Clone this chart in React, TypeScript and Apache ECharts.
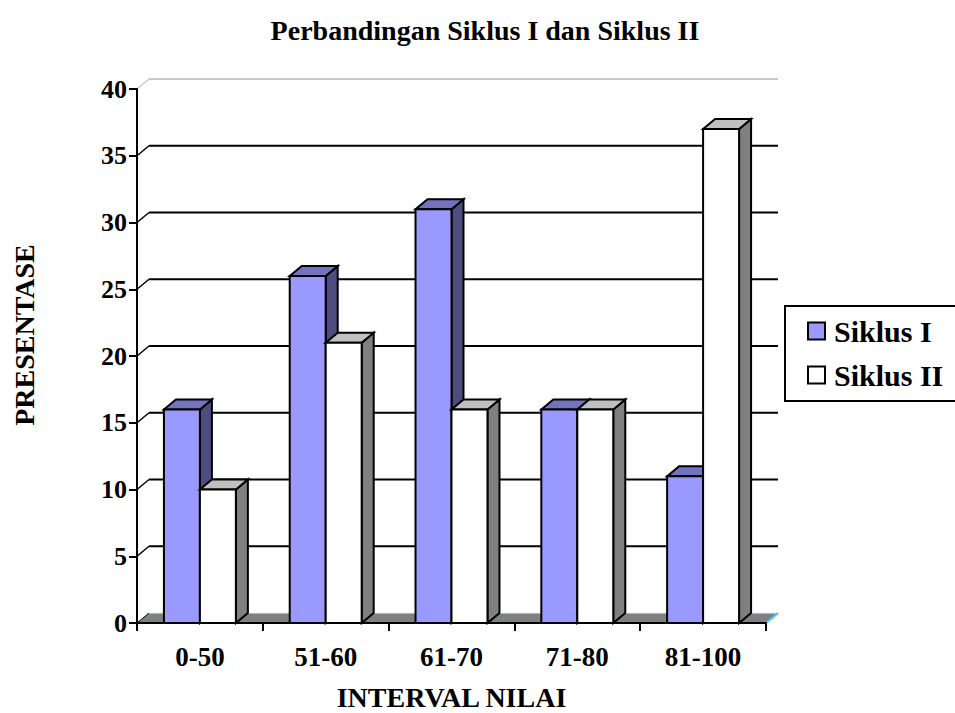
import React, { useEffect, useRef } from "react";
import * as echarts from "echarts";

// Score intervals and percentage of students per interval for each cycle
const CATEGORIES = ["0-50", "51-60", "61-70", "71-80", "81-100"];
const SIKLUS_I = [16, 26, 31, 16, 11];
const SIKLUS_II = [10, 21, 16, 16, 37];
const Y_TICKS = [0, 5, 10, 15, 20, 25, 30, 35, 40];

const FONT = "'Liberation Serif', 'Times New Roman', serif";
const DX = 12; // depth offset of the 3D box, horizontal
const DY = -10; // depth offset of the 3D box, vertical

type Shade = { front: string; top: string; side: string };

const SHADE_I: Shade = { front: "#9999ff", top: "#7373c0", side: "#4d4d80" };
const SHADE_II: Shade = { front: "#ffffff", top: "#c0c0c0", side: "#808080" };

function barRenderer(startFrac: number, endFrac: number, shade: Shade) {
  return (_params: any, api: any) => {
    const idx = api.value(0);
    const v = api.value(1);
    const top = api.coord([idx, v]);
    const base = api.coord([idx, 0]);
    const bw = api.size([1, 0])[0];
    const x0 = top[0] + startFrac * bw;
    const x1 = top[0] + endFrac * bw;
    const yT = top[1];
    const yB = base[1];
    const line = { stroke: "#000", lineWidth: 2, lineJoin: "miter" };
    return {
      type: "group",
      children: [
        {
          type: "polygon",
          shape: { points: [[x1, yT], [x1 + DX, yT + DY], [x1 + DX, yB + DY], [x1, yB]] },
          style: { fill: shade.side, ...line },
        },
        {
          type: "polygon",
          shape: { points: [[x0, yT], [x0 + DX, yT + DY], [x1 + DX, yT + DY], [x1, yT]] },
          style: { fill: shade.top, ...line },
        },
        {
          type: "rect",
          shape: { x: x0, y: yT, width: x1 - x0, height: yB - yT },
          style: { fill: shade.front, ...line },
        },
      ],
    };
  };
}

// Back wall grid lines and the floor of the 3D box
function wallRenderer(params: any, api: any) {
  const v = api.value(1);
  const cs = params.coordSys;
  const xl = cs.x;
  const xr = cs.x + cs.width;
  const y = api.coord([0, v])[1];
  if (v === 0) {
    return {
      type: "group",
      children: [
        {
          type: "polygon",
          shape: { points: [[xl, y], [xl + DX, y + DY], [xr + DX, y + DY], [xr, y]] },
          style: { fill: "#808080" },
        },
        {
          type: "line",
          shape: { x1: xl + DX, y1: y + DY, x2: xr + DX, y2: y + DY },
          style: { stroke: "#dff4f8", lineWidth: 1 },
        },
        {
          type: "line",
          shape: { x1: xr, y1: y, x2: xr + DX, y2: y + DY },
          style: { stroke: "#33ccff", lineWidth: 2 },
        },
        {
          type: "line",
          shape: { x1: xl, y1: y, x2: xl + DX, y2: y + DY },
          style: { stroke: "#000", lineWidth: 1 },
        },
      ],
    };
  }
  const isTop = v === Y_TICKS[Y_TICKS.length - 1];
  const color = isTop ? "#c8c8c8" : "#000";
  return {
    type: "group",
    children: [
      {
        type: "line",
        shape: { x1: xl, y1: y, x2: xl + DX, y2: y + DY },
        style: { stroke: color, lineWidth: 1.5 },
      },
      {
        type: "line",
        shape: { x1: xl + DX, y1: y + DY, x2: xr + DX, y2: y + DY },
        style: { stroke: color, lineWidth: 2 },
      },
    ],
  };
}

export default function App() {
  const ref = useRef<HTMLDivElement>(null);

  useEffect(() => {
    if (!ref.current) return;
    const chart = echarts.init(ref.current, undefined, { renderer: "svg" });
    const labelStyle = { fontFamily: FONT, fontWeight: "bold" as const, color: "#000" };
    chart.setOption({
      animation: false,
      backgroundColor: "#fff",
      title: {
        text: "Perbandingan Siklus I dan Siklus II",
        left: 480,
        textAlign: "center",
        top: 11,
        textStyle: { ...labelStyle, fontSize: 28 },
      },
      legend: {
        orient: "vertical",
        left: 785,
        top: 306,
        padding: [10, 18, 11, 22],
        itemGap: 14,
        itemWidth: 17,
        itemHeight: 17,
        borderColor: "#000",
        borderWidth: 2,
        textStyle: { ...labelStyle, fontSize: 30, padding: [0, 0, 0, 4] },
        data: [
          {
            name: "Siklus I",
            icon: "rect",
            itemStyle: { color: SHADE_I.front, borderColor: "#000", borderWidth: 2 },
          },
          {
            name: "Siklus II",
            icon: "rect",
            itemStyle: { color: SHADE_II.front, borderColor: "#000", borderWidth: 2 },
          },
        ],
      },
      graphic: [
        {
          type: "text",
          x: 24,
          y: 335,
          rotation: Math.PI / 2,
          style: {
            text: "PRESENTASE",
            fontFamily: FONT,
            fontWeight: "bold",
            fontSize: 28,
            fill: "#000",
            align: "center",
            verticalAlign: "middle",
          },
        },
      ],
      grid: { left: 137, right: 189, top: 89, bottom: 90, outerBoundsMode: "none" },
      xAxis: {
        type: "category",
        data: CATEGORIES,
        z: 5,
        axisLine: { lineStyle: { color: "#000", width: 2 } },
        axisTick: { show: true, length: 8, lineStyle: { color: "#000", width: 2 } },
        axisLabel: { ...labelStyle, fontSize: 27, margin: 20 },
        name: "INTERVAL NILAI",
        nameLocation: "middle",
        nameGap: 60,
        nameTextStyle: { ...labelStyle, fontSize: 28 },
        splitLine: { show: false },
      },
      yAxis: {
        type: "value",
        min: 0,
        max: 40,
        interval: 5,
        z: 5,
        axisLine: { show: true, lineStyle: { color: "#000", width: 2 } },
        axisTick: { show: true, length: 8, lineStyle: { color: "#000", width: 2 } },
        axisLabel: { ...labelStyle, fontSize: 26, margin: 10 },
        splitLine: { show: false },
      },
      series: [
        {
          type: "custom",
          name: "wall",
          z: 1,
          silent: true,
          renderItem: wallRenderer,
          encode: { x: 0, y: 1 },
          data: Y_TICKS.map((v) => [0, v]),
        },
        {
          type: "custom",
          name: "Siklus I",
          z: 2,
          itemStyle: { color: SHADE_I.front },
          renderItem: barRenderer(-0.286, 0, SHADE_I),
          encode: { x: 0, y: 1 },
          data: SIKLUS_I.map((v, i) => [i, v]),
        },
        {
          type: "custom",
          name: "Siklus II",
          z: 3,
          itemStyle: { color: SHADE_II.front },
          renderItem: barRenderer(0, 0.286, SHADE_II),
          encode: { x: 0, y: 1 },
          data: SIKLUS_II.map((v, i) => [i, v]),
        },
      ],
    });
    return () => chart.dispose();
  }, []);

  return <div ref={ref} style={{ width: 955, height: 713, position: "absolute", left: 0, top: 0 }} />;
}
